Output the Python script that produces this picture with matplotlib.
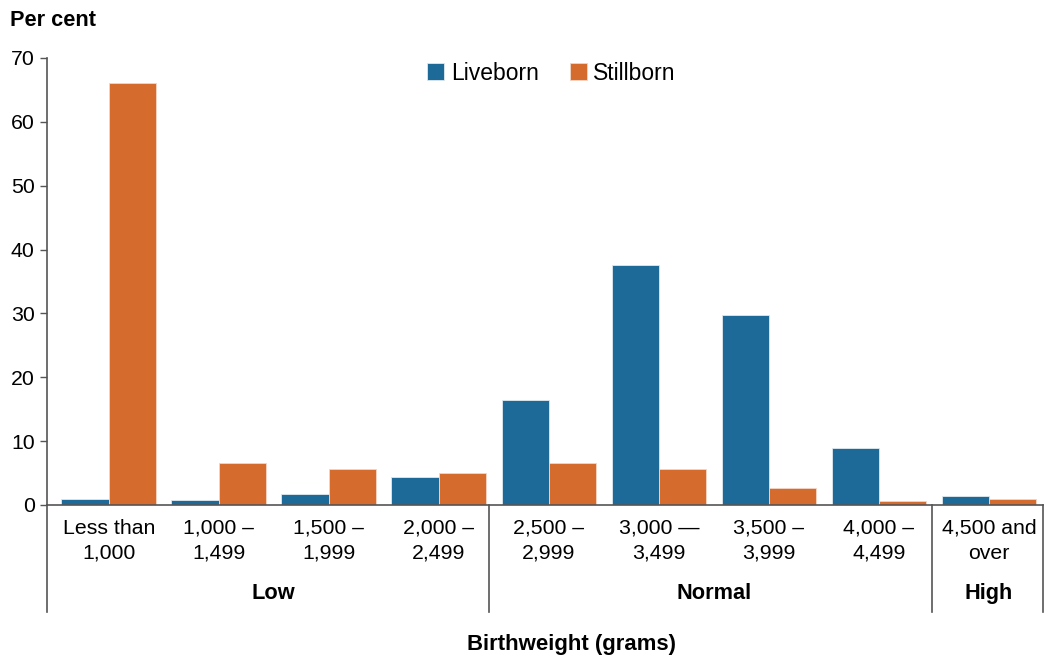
import matplotlib.pyplot as plt
import numpy as np

plt.rcParams['font.family'] = ['Liberation Sans', 'DejaVu Sans']

categories = ['Less than\n1,000', '1,000 –\n1,499', '1,500 –\n1,999', '2,000 –\n2,499',
              '2,500 –\n2,999', '3,000 —\n3,499', '3,500 –\n3,999', '4,000 –\n4,499',
              '4,500 and\nover']
liveborn = [0.9, 0.8, 1.7, 4.4, 16.4, 37.6, 29.8, 8.9, 1.4]
stillborn = [66.1, 6.6, 5.6, 5.0, 6.6, 5.6, 2.7, 0.6, 0.9]
groups = ['Low', 'Normal', 'High']
group_spans = [(0, 3), (4, 7), (8, 8)]

blue = '#1d6a99'
orange = '#d66b2e'
axis_col = '#555555'

fig = plt.figure(figsize=(10.46, 6.56), dpi=100)
ax = fig.add_axes([0.045, 0.2302, 0.952, 0.6814])

x = np.arange(len(categories))
w = 0.43
ax.bar(x - w / 2, liveborn, w, color=blue, edgecolor='#dfe9f0', linewidth=0.6, label='Liveborn')
ax.bar(x + w / 2, stillborn, w, color=orange, edgecolor='#f3d6c6', linewidth=0.6, label='Stillborn')

ax.set_xlim(-0.56, 8.49)
ax.set_ylim(0, 70)
ax.set_yticks(range(0, 71, 10))
ax.set_xticks(x)
ax.set_xticklabels(categories, fontsize=15.3, linespacing=1.38)
ax.tick_params(axis='x', length=0, pad=10)
ax.tick_params(axis='y', length=5, width=1, color=axis_col, labelsize=15.3, pad=4)

for s in ['top', 'right']:
    ax.spines[s].set_visible(False)
ax.spines['left'].set_color(axis_col)
ax.spines['bottom'].set_color(axis_col)
ax.spines['left'].set_linewidth(1.2)
ax.spines['bottom'].set_linewidth(1.2)

# extended separators below the axis
trans = ax.get_xaxis_transform()
low = -0.239
for xs in [-0.56, 3.46, 7.48, 8.49]:
    ax.plot([xs, xs], [0, low], transform=trans, color=axis_col, lw=1.2, clip_on=False)

for name, (a, b) in zip(groups, group_spans):
    ax.text((a + b) / 2, -0.199, name, transform=trans, ha='center', va='center',
            fontsize=15.7, fontweight='bold')

ax.text(4.21, -0.313, 'Birthweight (grams)', transform=trans,
        ha='center', va='center', fontsize=15.9, fontweight='bold')
fig.text(10 / 1046, 1 - 20 / 656, 'Per cent', ha='left', va='center',
         fontsize=15.7, fontweight='bold')

ax.legend(loc='center', bbox_to_anchor=(0.5065, 0.966), ncol=2, frameon=False,
          fontsize=16.5, handlelength=0.74, handleheight=0.74, columnspacing=1.35,
          handletextpad=0.3)

fig.savefig('out.png', dpi=100)
